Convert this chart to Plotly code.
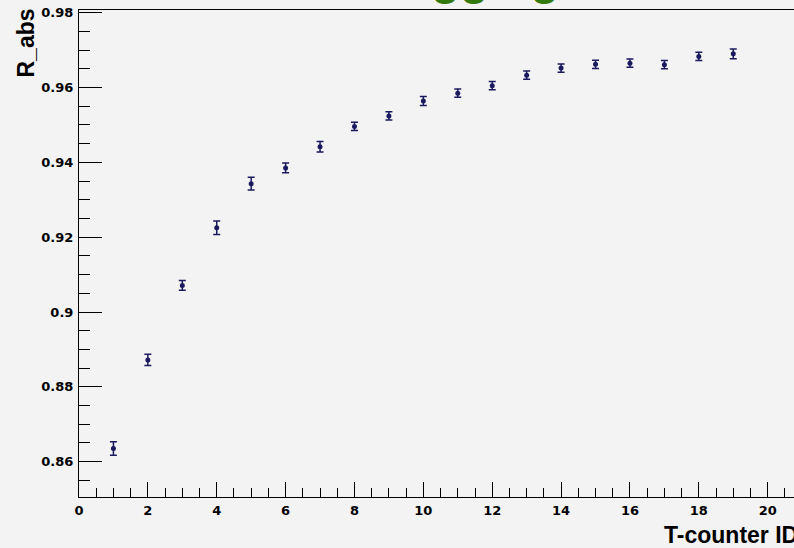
import plotly.graph_objects as go

counter_id = list(range(1, 20))
r_abs = [0.8635, 0.8872, 0.9071, 0.9225, 0.9343, 0.9385, 0.9442, 0.9496, 0.9524, 0.9564,
         0.9585, 0.9605, 0.9633, 0.9652, 0.9662, 0.9665, 0.9661, 0.9683, 0.9690]
r_err = [0.0018, 0.0015, 0.0013, 0.0018, 0.0017, 0.0013, 0.0014, 0.0011, 0.0011, 0.0012,
         0.0011, 0.0011, 0.0011, 0.0011, 0.0011, 0.0011, 0.0011, 0.0011, 0.0013]
x_ticks = [0, 2, 4, 6, 8, 10, 12, 14, 16, 18, 20]
y_ticks = [0.86, 0.88, 0.90, 0.92, 0.94, 0.96, 0.98]
y_tick_text = ["0.86", "0.88", "0.9", "0.92", "0.94", "0.96", "0.98"]

W, H = 794, 548
ML, MR, MT, MB = 79, 0, 10, 51
PW, PH = W - ML - MR, H - MT - MB

bg = "#f3f3f3"
navy = "#1b1a5e"
tickfont = dict(family="DejaVu Sans", size=13, color="black", weight="bold")

fig = go.Figure()
fig.add_trace(go.Scatter(
    x=counter_id, y=r_abs, mode="markers",
    marker=dict(color=navy, size=5),
    error_y=dict(type="data", array=r_err, color=navy, thickness=1.5, width=3.5),
    showlegend=False,
))

fig.update_layout(
    width=W, height=H,
    margin=dict(l=ML, r=MR, t=MT, b=MB, pad=0),
    paper_bgcolor=bg, plot_bgcolor=bg,
    xaxis=dict(
        range=[0, 20.764], tickmode="array", tickvals=x_ticks,
        ticks="inside", ticklen=15, tickwidth=1, tickcolor="black",
        minor=dict(dtick=0.5, tick0=0, ticks="inside", ticklen=9, tickwidth=1, tickcolor="black"),
        showgrid=False, zeroline=False, showline=True, linecolor="black", linewidth=1,
        mirror=True, tickfont=tickfont, ticklabelstandoff=1,
    ),
    yaxis=dict(
        range=[0.85056, 0.98072], tickmode="array", tickvals=y_ticks, ticktext=y_tick_text,
        ticks="inside", ticklen=23, tickwidth=1, tickcolor="black",
        minor=dict(dtick=0.005, tick0=0.86, ticks="inside", ticklen=11, tickwidth=1, tickcolor="black"),
        showgrid=False, zeroline=False, showline=True, linecolor="black", linewidth=1,
        mirror=False, tickfont=tickfont, ticklabelstandoff=2,
    ),
)

titlefont = dict(family="Liberation Sans", size=23, color="black", weight="bold")
fig.add_annotation(
    text="T-counter ID", xref="paper", yref="paper",
    x=(661.7 - ML) / PW, y=(MT + PH - 535) / PH,
    xanchor="left", yanchor="middle", showarrow=False, font=titlefont,
)
fig.add_annotation(
    text="R_abs", xref="paper", yref="paper", textangle=-90,
    x=(25 - ML) / PW, y=1 + (MT - 7) / PH,
    xanchor="center", yanchor="top", showarrow=False, font=titlefont,
)
fig.add_annotation(
    text="Tagging", xref="paper", yref="paper",
    x=(378 - ML) / PW, y=1 + (MT - 6) / PH,
    xanchor="left", yanchor="bottom", showarrow=False,
    font=dict(family="Liberation Sans", size=47, color="#34790e", weight="bold"),
)

fig.write_html("out.html")
